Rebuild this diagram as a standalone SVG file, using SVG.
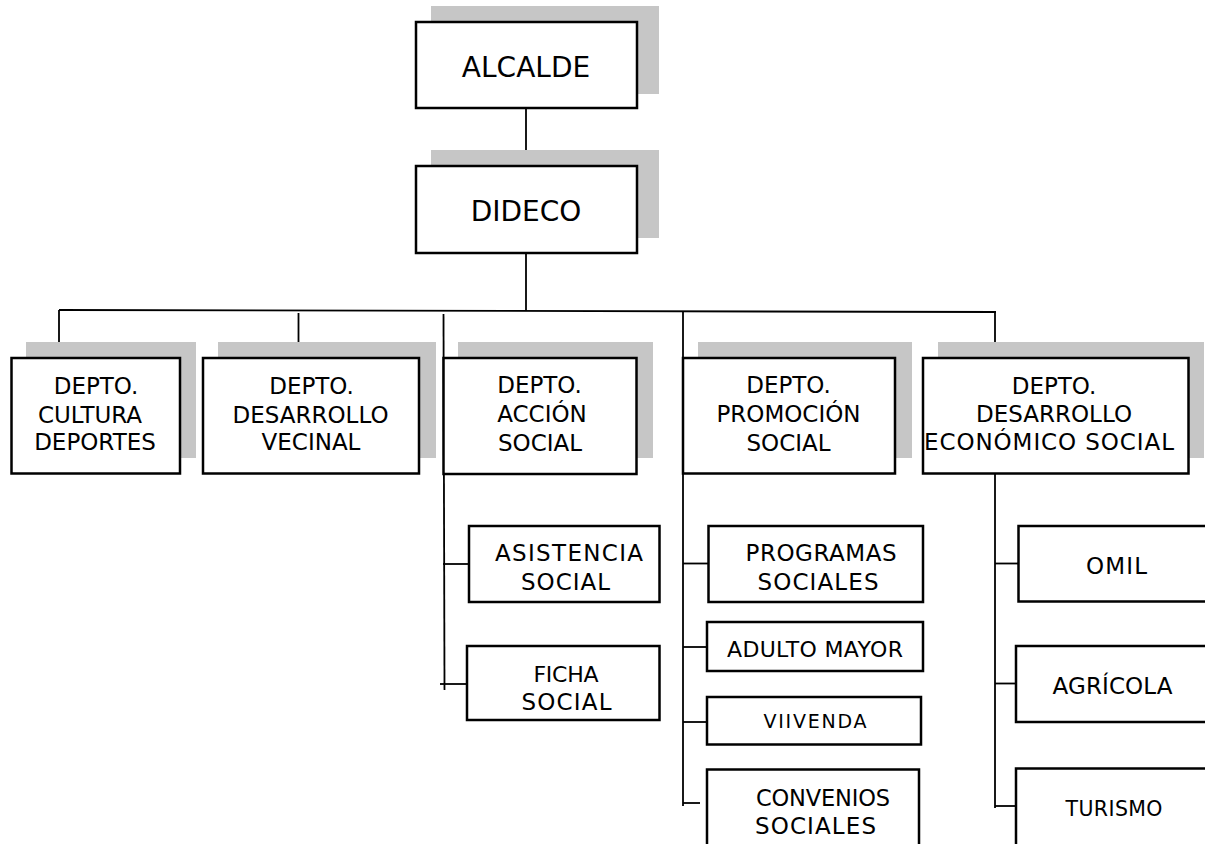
<svg xmlns="http://www.w3.org/2000/svg" width="1205" height="844" viewBox="0 0 1205 844">
<style>
.bg{fill:#ffffff}
.sh{fill:#c6c6c6}
.bx{fill:#ffffff;stroke:#000;stroke-width:2.5}
.ln{stroke:#000;stroke-width:1.8;fill:none}
text{font-family:"DejaVu Sans",Verdana,"Liberation Sans",sans-serif;fill:#000;text-anchor:middle}
.t1{font-size:28px}
.t2{font-size:23px}
.t3{font-size:23px}
</style>
<rect class="bg" x="0" y="0" width="1205" height="844"/>
<g id="connectors">
<line class="ln" x1="526" y1="108" x2="526" y2="166"/>
<line class="ln" x1="526" y1="253" x2="526" y2="311"/>
<line class="ln" x1="59" y1="310" x2="996" y2="312"/>
<line class="ln" x1="59" y1="310" x2="59" y2="358"/>
<line class="ln" x1="298.5" y1="313" x2="298.5" y2="358"/>
<line class="ln" x1="443.5" y1="314" x2="444.5" y2="690"/>
<line class="ln" x1="683" y1="311" x2="683" y2="806"/>
<line class="ln" x1="995" y1="311" x2="995" y2="358"/>
<line class="ln" x1="995" y1="473" x2="995" y2="808"/>
<line class="ln" x1="443" y1="564" x2="469" y2="564"/>
<line class="ln" x1="440" y1="684" x2="467" y2="684"/>
<line class="ln" x1="683" y1="563.5" x2="708" y2="563.5"/>
<line class="ln" x1="683" y1="647" x2="707" y2="647"/>
<line class="ln" x1="683" y1="722" x2="707" y2="722"/>
<line class="ln" x1="683" y1="803" x2="700" y2="803"/>
<line class="ln" x1="995" y1="563.5" x2="1018" y2="563.5"/>
<line class="ln" x1="995" y1="683.5" x2="1016" y2="683.5"/>
<line class="ln" x1="995" y1="806" x2="1016" y2="806"/>
</g>
<g id="alcalde">
<rect class="sh" x="431" y="6" width="228" height="88"/>
<rect class="bx" x="416" y="22" width="221" height="86"/>
<text class="t1" x="526" y="77">ALCALDE</text>
</g>
<g id="dideco">
<rect class="sh" x="431" y="150" width="228" height="88"/>
<rect class="bx" x="416" y="166" width="221" height="87"/>
<text class="t1" x="526" y="221">DIDECO</text>
</g>
<g id="cultura">
<rect class="sh" x="26" y="342" width="170" height="116"/>
<rect class="bx" x="11.5" y="358" width="168.5" height="115.5"/>
<text class="t2" x="96" y="394">DEPTO.</text>
<text class="t2" x="90" y="422.5">CULTURA</text>
<text class="t2" x="95" y="450">DEPORTES</text>
</g>
<g id="vecinal">
<rect class="sh" x="218" y="342" width="218" height="116"/>
<rect class="bx" x="203" y="358" width="216" height="115.5"/>
<text class="t2" x="311.5" y="394">DEPTO.</text>
<text class="t2" x="310.5" y="422.5">DESARROLLO</text>
<text class="t2" x="311" y="450">VECINAL</text>
</g>
<g id="accion">
<rect class="sh" x="458" y="342" width="195" height="116"/>
<rect class="bx" x="443.5" y="358" width="193" height="116"/>
<text class="t2" x="539.5" y="393">DEPTO.</text>
<text class="t2" x="542" y="422">ACCIÓN</text>
<text class="t2" x="540" y="450.5">SOCIAL</text>
</g>
<g id="promocion">
<rect class="sh" x="698" y="342" width="214" height="116"/>
<rect class="bx" x="683" y="358" width="212" height="115.5"/>
<text class="t2" x="788.5" y="393">DEPTO.</text>
<text class="t2" x="788.5" y="422">PROMOCIÓN</text>
<text class="t2" x="788.5" y="450.5">SOCIAL</text>
</g>
<g id="economico">
<rect class="sh" x="938" y="342" width="266" height="116"/>
<rect class="bx" x="923" y="358" width="265.5" height="115.5"/>
<text class="t2" x="1054" y="393.5">DEPTO.</text>
<text class="t2" x="1054" y="422">DESARROLLO</text>
<text class="t2" x="1049" y="450" textLength="250">ECONÓMICO SOCIAL</text>
</g>
<g id="asistencia">
<rect class="bx" x="469" y="526" width="190.5" height="76"/>
<text class="t3" x="569" y="561" textLength="148">ASISTENCIA</text>
<text class="t3" x="565.5" y="589.5" textLength="89">SOCIAL</text>
</g>
<g id="ficha">
<rect class="bx" x="467" y="646" width="192.5" height="74"/>
<text x="566" y="682" style="font-size:22px" textLength="65">FICHA</text>
<text class="t3" x="566.5" y="710" textLength="90">SOCIAL</text>
</g>
<g id="programas">
<rect class="bx" x="708.5" y="526" width="214.5" height="76"/>
<text class="t3" x="821" y="561" textLength="151">PROGRAMAS</text>
<text class="t3" x="818" y="589.5" textLength="121">SOCIALES</text>
</g>
<g id="adulto">
<rect class="bx" x="707" y="622" width="216" height="49"/>
<text x="815" y="657" style="font-size:22px" textLength="176">ADULTO MAYOR</text>
</g>
<g id="vivienda">
<rect class="bx" x="707" y="697" width="214" height="47.5"/>
<text x="815" y="728" style="font-size:19px" textLength="103">VIIVENDA</text>
</g>
<g id="convenios">
<rect class="bx" x="707" y="769.5" width="212" height="90"/>
<text x="823" y="806" style="font-size:22.5px" textLength="134">CONVENIOS</text>
<text class="t3" x="815.5" y="833.5" textLength="121">SOCIALES</text>
</g>
<g id="omil">
<rect class="bx" x="1018.5" y="526" width="200" height="75.5"/>
<text class="t3" x="1116.5" y="573.5" textLength="61">OMIL</text>
</g>
<g id="agricola">
<rect class="bx" x="1016" y="646" width="200" height="76"/>
<text class="t3" x="1112.5" y="693.5" textLength="120">AGRÍCOLA</text>
</g>
<g id="turismo">
<rect class="bx" x="1016" y="768.5" width="200" height="90"/>
<text x="1114" y="816" style="font-size:20.5px" textLength="97">TURISMO</text>
</g>
</svg>
